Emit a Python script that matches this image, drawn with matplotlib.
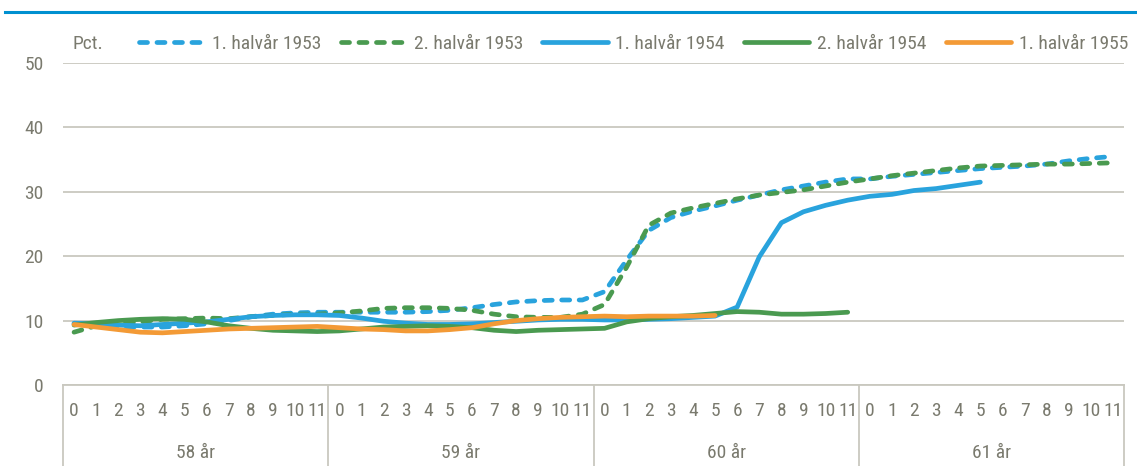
import numpy as np
import matplotlib.pyplot as plt
from matplotlib.lines import Line2D

# values (pct.)
months = [str(m) for m in range(12)]
ages = ['58 år', '59 år', '60 år', '61 år']

h1_1953 = [9.5, 9.3, 9.1, 9.0, 9.0, 9.2, 9.5, 10.0, 10.6, 11.0, 11.2, 11.3,
           11.3, 11.3, 11.3, 11.3, 11.4, 11.6, 12.0, 12.5, 12.9, 13.1, 13.2, 13.2,
           14.5, 19.4, 24.0, 26.0, 27.0, 27.8, 28.7, 29.5, 30.3, 30.9, 31.5, 32.0,
           32.0, 32.4, 32.7, 33.0, 33.3, 33.6, 33.8, 34.0, 34.3, 34.8, 35.2, 35.5]
h2_1953 = [8.2, 9.2, 9.5, 9.8, 10.2, 10.3, 10.4, 10.3, 10.6, 10.8, 11.0, 11.0,
           11.2, 11.5, 11.9, 12.0, 12.0, 11.9, 11.6, 11.0, 10.6, 10.5, 10.5, 11.0,
           12.5, 18.3, 24.8, 26.7, 27.5, 28.2, 28.9, 29.5, 29.9, 30.3, 30.9, 31.5,
           32.0, 32.5, 32.9, 33.3, 33.7, 34.0, 34.1, 34.2, 34.3, 34.3, 34.4, 34.5]
h1_1954 = [9.6, 9.5, 9.3, 9.2, 9.4, 9.6, 9.8, 10.2, 10.6, 10.8, 10.9, 10.9,
           10.8, 10.4, 9.9, 9.6, 9.4, 9.4, 9.5, 9.7, 9.9, 10.1, 10.2, 10.2,
           10.1, 10.1, 10.2, 10.3, 10.5, 10.7, 12.1, 19.9, 25.2, 26.9, 27.9, 28.7,
           29.3, 29.6, 30.2, 30.5, 31.0, 31.5]
h2_1954 = [9.3, 9.7, 10.0, 10.2, 10.3, 10.2, 9.8, 9.2, 8.8, 8.5, 8.4, 8.3,
           8.4, 8.7, 9.0, 9.1, 9.2, 9.1, 8.9, 8.5, 8.3, 8.5, 8.6, 8.7,
           8.8, 9.8, 10.3, 10.6, 10.8, 11.1, 11.4, 11.3, 11.0, 11.0, 11.1, 11.3]
h1_1955 = [9.4, 9.0, 8.6, 8.2, 8.1, 8.3, 8.5, 8.7, 8.8, 8.9, 9.0, 9.1,
           8.9, 8.7, 8.6, 8.4, 8.4, 8.6, 8.9, 9.5, 10.0, 10.3, 10.5, 10.6,
           10.7, 10.6, 10.7, 10.7, 10.7, 10.8]

blue = '#29a3dd'
green = '#4a9a50'
orange = '#f39a36'
grey = '#7a7a6e'
gridc = '#c9c8bf'
fs = 14

plt.rcParams['font.family'] = ['Roboto Condensed', 'Liberation Sans Narrow',
                               'Roboto', 'DejaVu Sans']

fig = plt.figure(figsize=(11.37, 4.66), dpi=100)
ax = fig.add_axes([63/1137, 1-385/466, (1124-63)/1137, (385-63)/466])

dash = (1.7, 2.0)
lw = 3.4
series = [
    (h1_1953, blue, '1. halvår 1953', True),
    (h2_1953, green, '2. halvår 1953', True),
    (h1_1954, blue, '1. halvår 1954', False),
    (h2_1954, green, '2. halvår 1954', False),
    (h1_1955, orange, '1. halvår 1955', False),
]
handles = []
for vals, col, lab, dashed in series:
    x = np.arange(len(vals))
    if dashed:
        l, = ax.plot(x, vals, color=col, lw=lw, dashes=dash,
                     dash_capstyle='round', label=lab)
    else:
        l, = ax.plot(x, vals, color=col, lw=lw, solid_capstyle='round', label=lab)
    handles.append(l)

ax.set_ylim(0, 50)
ax.set_xlim(-0.5, 47.5)
ax.set_yticks(range(0, 51, 10))
ax.yaxis.grid(True, color=gridc, lw=1.3)
ax.set_axisbelow(True)
for s in ['top', 'right', 'left']:
    ax.spines[s].set_visible(False)
ax.spines['bottom'].set_color(gridc)
ax.spines['bottom'].set_linewidth(1.3)
ax.tick_params(axis='y', length=0, pad=14, labelcolor=grey, labelsize=fs)
ax.set_xticks(range(48))
ax.set_xticklabels(months * 4)
ax.tick_params(axis='x', length=0, pad=12, labelcolor=grey, labelsize=fs)

# age groups below month labels
trans = ax.get_xaxis_transform()
ybot = -(466 - 385) / 322
for g, age in enumerate(ages):
    ax.text(g * 12 + 5.5, -0.21, age, transform=trans, ha='center', va='center',
            color=grey, fontsize=fs)
for g in range(5):
    ax.plot([g * 12 - 0.5] * 2, [0, ybot], transform=trans, color=gridc,
            lw=1.3, clip_on=False)

# legend
ax.text(73/1137, 1-44/466, 'Pct.', transform=fig.transFigure, ha='left',
        va='center', color=grey, fontsize=fs)
leg = fig.legend(handles=handles, loc='center right', bbox_to_anchor=(1.0, 1-44/466),
                 ncol=5, frameon=False, handlelength=3.35, handletextpad=0.4,
                 columnspacing=1.0, fontsize=fs, borderaxespad=0.05)
for t in leg.get_texts():
    t.set_color(grey)

# blue rule at the top
fig.add_artist(Line2D([5/1137, 1.0], [1-12/466]*2, transform=fig.transFigure,
                      color='#0090d0', lw=2.2))

fig.savefig('out.png', dpi=100)
